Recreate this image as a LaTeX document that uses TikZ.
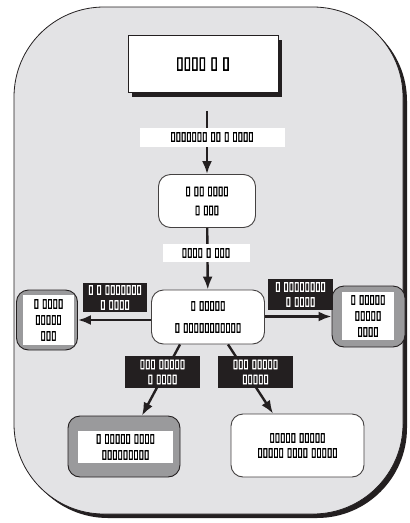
\documentclass[tikz,border=0pt]{standalone}
\usepackage{fontspec}
\setmainfont{DejaVu Sans}[FakeBold=3, FakeStretch=0.8]
\usepackage{xcolor}
\usepackage{tikz}
\usetikzlibrary{arrows.meta,positioning,calc,shadows}
\definecolor{panel}{HTML}{E3E3E5}
\definecolor{midgray}{HTML}{9A9A9C}
\definecolor{ink}{HTML}{231F20}

\begin{document}
\begin{tikzpicture}[x=1pt, y=-1pt,
    stepbox/.style={rectangle, rounded corners=12pt, draw=ink!85, fill=white, line width=0.9pt, align=center, font=\fontsize{12}{19}\selectfont},
    greybox/.style={stepbox, fill=midgray, draw=ink},
    whitepad/.style={rectangle, fill=white, align=center, font=\fontsize{12}{16}\selectfont},
    tag/.style={rectangle, fill=ink, text=white, align=center, inner sep=0pt, font=\fontsize{12}{15}\selectfont},
    note/.style={rectangle, fill=white, inner sep=0pt, font=\fontsize{12}{11}\selectfont},
    arrow/.style={-{Latex[length=13pt,width=10pt]}, line width=2.4pt, ink}
]
    \useasboundingbox (0,0) rectangle (410,523);
    % outer panel
    \draw[ink, fill=panel, line width=0.8pt, rounded corners=90pt,
        drop shadow={shadow xshift=4pt, shadow yshift=-4pt, fill=ink, opacity=1}]
        (14,7) rectangle (403,514);

    \node[rectangle, draw=ink, fill=white, line width=0.8pt, minimum width=150pt, minimum height=57pt,
        font=\fontsize{17}{15}\selectfont,
        drop shadow={shadow xshift=4pt, shadow yshift=-4pt, fill=ink, opacity=1}]
        (input) at (203,64) {▯▯▯▯ ▯ ▯};
    \node[stepbox, minimum width=97pt, minimum height=53pt] (check) at (207,201) {▯ ▯▯ ▯▯▯▯\\▯ ▯▯▯};
    \node[stepbox, minimum width=113pt, minimum height=54pt, font=\fontsize{12}{22}\selectfont] (hub) at (208,317) {▯ ▯▯▯▯▯\\▯ ▯▯▯▯▯▯▯▯▯▯▯};

    \node[greybox, minimum width=61pt, minimum height=60pt] (left) at (47,320) {};
    \node[whitepad, minimum width=51pt, minimum height=50pt] (leftpad) at (48.5,320) {▯ ▯▯▯▯\\▯▯▯▯▯\\▯▯▯};
    \node[greybox, minimum width=73pt, minimum height=61pt] (right) at (368.5,316.5) {};
    \node[whitepad, minimum width=52pt, minimum height=48pt] (rightpad) at (368,316) {▯ ▯▯▯▯▯\\▯▯▯▯▯\\▯▯▯▯};
    \node[greybox, minimum width=112pt, minimum height=61pt] (low) at (124,446.5) {};
    \node[whitepad, minimum width=95pt, minimum height=32pt] (lowpad) at (125.5,447) {▯ ▯▯▯▯▯ ▯▯▯▯\\▯▯▯▯▯▯▯▯▯};
    \node[stepbox, minimum width=133pt, minimum height=63pt, font=\fontsize{12}{15}\selectfont] (out) at (297.5,445.5) {▯▯▯▯▯ ▯▯▯▯▯\\▯▯▯▯▯ ▯▯▯▯ ▯▯▯▯▯};

    \draw[arrow, shorten <=18pt] (input.south -| check) -- (check);
    \draw[arrow] (check) -- (hub);
    \draw[arrow] (hub.west |- left.east) -- (left.east);
    \draw[arrow] (hub.east |- right.west) -- (right.west);
    \draw[arrow] ($(hub.south)+(-28,0)$) -- ($(low.north)+(18,0)$);
    \draw[arrow] ($(hub.south)+(20,0)$) -- ($(out.north)+(-24.5,0)$);

    \node[note, minimum width=145pt, minimum height=19pt] (q1) at (212,137) {▯▯▯▯▯▯▯ ▯▯ ▯ ▯▯▯▯};
    \node[note, minimum width=87pt, minimum height=18pt] (q2) at (206,253) {▯▯▯▯ ▯ ▯▯▯};
    \node[tag, minimum width=64pt, minimum height=29pt] (tl) at (115,297.5) {▯ ▯ ▯▯▯▯▯▯▯\\▯ ▯▯▯▯};
    \node[tag, minimum width=65pt, minimum height=31pt] (tr) at (300.5,294.5) {▯ ▯▯▯▯▯▯▯▯\\▯ ▯▯▯▯};
    \node[tag, minimum width=75pt, minimum height=32pt] (tbl) at (162.5,372) {▯▯▯ ▯▯▯▯▯\\▯ ▯▯▯▯};
    \node[tag, minimum width=75pt, minimum height=32pt] (tbr) at (255.5,372) {▯▯▯ ▯▯▯▯▯\\▯▯▯▯▯};
\end{tikzpicture}
\end{document}
